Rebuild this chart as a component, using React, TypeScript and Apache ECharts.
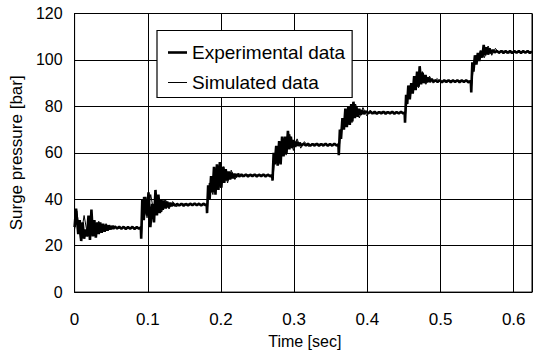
import React, { useEffect, useRef } from "react";
import * as echarts from "echarts";

const xTicks = [0, 0.1, 0.2, 0.3, 0.4, 0.5, 0.6];
const yTicks = [0, 20, 40, 60, 80, 100, 120];
const seriesNames = ["Experimental data", "Simulated data"];

// Experimental data [time (s), pressure (bar)]
const experimental: [number, number][] = [
  [0.0, 28], [0.002, 36], [0.005, 25], [0.007, 31], [0.009, 22], [0.011, 30], [0.013, 23], [0.015, 27],
  [0.017, 24], [0.019, 33], [0.021, 22.5], [0.023, 35.5], [0.025, 24], [0.027, 31], [0.029, 23.5],
  [0.031, 30], [0.033, 25], [0.035, 30], [0.037, 25.5], [0.039, 29.5], [0.041, 26], [0.043, 29],
  [0.045, 26.5], [0.047, 28.8], [0.049, 27], [0.051, 28.5], [0.053, 27.2], [0.055, 28.3], [0.058, 27.4],
  [0.061, 28.1], [0.064, 27.3], [0.067, 28.1], [0.07, 27.2], [0.073, 28.0], [0.076, 27.3], [0.079, 28.1],
  [0.082, 27.2], [0.085, 28.0], [0.088, 27.3], [0.0905, 27.9],
  [0.091, 23], [0.0925, 40], [0.0945, 31], [0.0965, 41], [0.099, 33], [0.101, 43], [0.1035, 28],
  [0.106, 38], [0.1085, 30], [0.1105, 44], [0.1125, 33], [0.1145, 42], [0.1165, 34], [0.1185, 40],
  [0.1205, 35.5], [0.1225, 39.5], [0.1245, 36], [0.1265, 39], [0.1285, 36.5], [0.1305, 38.5],
  [0.1325, 37], [0.1345, 38.2], [0.137, 37.2], [0.14, 38.0], [0.143, 37.3], [0.146, 38.1], [0.149, 37.2],
  [0.152, 38.0], [0.155, 37.3], [0.158, 38.1], [0.161, 37.4], [0.164, 38.2], [0.167, 37.4], [0.17, 38.1],
  [0.173, 37.3], [0.176, 38.1], [0.179, 37.4], [0.1805, 37.8],
  [0.181, 34], [0.1825, 46], [0.1845, 40], [0.1865, 50], [0.1885, 43], [0.1905, 54], [0.1925, 42],
  [0.1945, 55], [0.1965, 44], [0.1985, 56], [0.2005, 45], [0.2025, 54], [0.2045, 47], [0.2065, 53],
  [0.2085, 48], [0.2105, 52], [0.2125, 48.5], [0.2145, 51.5], [0.2165, 49], [0.2185, 51], [0.2205, 49.5],
  [0.2225, 50.8], [0.225, 49.8], [0.228, 50.7], [0.231, 49.9], [0.234, 50.7], [0.237, 49.8], [0.24, 50.6],
  [0.243, 49.9], [0.246, 50.7], [0.249, 49.8], [0.252, 50.6], [0.255, 49.9], [0.258, 50.7], [0.261, 49.8],
  [0.264, 50.6], [0.267, 49.9], [0.27, 50.4],
  [0.2705, 48], [0.272, 60], [0.2735, 55], [0.2755, 63], [0.2775, 54.5], [0.2795, 65], [0.2815, 55],
  [0.2835, 67], [0.2855, 58.5], [0.2875, 67], [0.2895, 60], [0.2915, 69.5], [0.2935, 61.5], [0.2955, 67],
  [0.2975, 62], [0.2995, 65.5], [0.3015, 62.5], [0.3035, 64.8], [0.3055, 63], [0.3075, 64.3], [0.31, 63.2],
  [0.313, 63.9], [0.316, 63.1], [0.319, 63.9], [0.322, 63.0], [0.325, 63.8], [0.328, 63.1], [0.331, 63.9],
  [0.334, 63.0], [0.337, 63.8], [0.34, 63.1], [0.343, 63.9], [0.346, 63.0], [0.349, 63.8], [0.352, 63.1],
  [0.355, 63.9], [0.358, 63.1], [0.3605, 63.6],
  [0.361, 59], [0.3625, 70], [0.364, 66], [0.366, 75], [0.368, 70], [0.37, 79], [0.372, 71], [0.374, 80],
  [0.376, 72], [0.378, 81], [0.3795, 73.5], [0.381, 82], [0.383, 75], [0.385, 80], [0.387, 75.5],
  [0.389, 79], [0.391, 76.3], [0.393, 78.4], [0.395, 76.7], [0.3975, 77.9], [0.401, 77], [0.404, 77.7],
  [0.407, 76.9], [0.41, 77.7], [0.413, 76.8], [0.416, 77.6], [0.419, 76.9], [0.422, 77.7], [0.425, 76.8],
  [0.428, 77.6], [0.431, 76.9], [0.434, 77.7], [0.437, 76.8], [0.44, 77.6], [0.443, 76.9], [0.446, 77.7],
  [0.449, 76.9], [0.451, 77.4],
  [0.4515, 73], [0.453, 85], [0.4545, 81], [0.456, 89], [0.458, 83], [0.46, 90], [0.462, 85.5],
  [0.464, 93], [0.466, 87], [0.468, 95], [0.47, 88.5], [0.4715, 97.3], [0.4735, 89.5], [0.4755, 94.5],
  [0.4775, 90], [0.4795, 93.5], [0.4815, 90.3], [0.4835, 92.5], [0.4855, 90.5], [0.488, 91.8],
  [0.4905, 90.6], [0.493, 91.3], [0.496, 90.5], [0.499, 91.3], [0.502, 90.4], [0.505, 91.2], [0.508, 90.5],
  [0.511, 91.3], [0.514, 90.4], [0.517, 91.2], [0.52, 90.5], [0.523, 91.3], [0.526, 90.4], [0.529, 91.2],
  [0.532, 90.5], [0.535, 91.3], [0.538, 90.4], [0.5414, 90.9],
  [0.542, 86], [0.5435, 99], [0.545, 95], [0.547, 102], [0.549, 98], [0.551, 103], [0.553, 99.5],
  [0.555, 104], [0.557, 101], [0.559, 106.5], [0.561, 102], [0.563, 105.5], [0.565, 102.3], [0.567, 105],
  [0.569, 102.8], [0.5715, 104.3], [0.574, 103.2], [0.577, 103.9], [0.58, 103.1], [0.583, 103.9],
  [0.586, 103.0], [0.589, 103.8], [0.592, 103.1], [0.595, 103.9], [0.598, 103.0], [0.601, 103.8],
  [0.604, 103.1], [0.607, 103.9], [0.61, 103.0], [0.613, 103.8], [0.616, 103.1], [0.619, 103.9],
  [0.622, 103.0], [0.625, 103.6],
];

// Simulated data [time (s), pressure (bar)]
const simulated: [number, number][] = [
  [0, 27], [0.003, 35], [0.008, 23], [0.013, 33], [0.018, 24], [0.023, 32], [0.028, 25], [0.033, 30.5],
  [0.038, 26], [0.043, 29.5], [0.048, 26.8], [0.053, 28.6], [0.058, 27.3], [0.065, 27.9], [0.0905, 27.7],
  [0.0915, 25], [0.094, 41], [0.099, 32], [0.104, 42], [0.109, 33], [0.114, 41.5], [0.119, 34.5],
  [0.124, 40], [0.129, 35.8], [0.134, 39], [0.139, 36.8], [0.145, 38], [0.1805, 37.6],
  [0.1815, 36], [0.184, 47], [0.189, 42], [0.194, 54], [0.199, 45], [0.204, 54], [0.209, 47], [0.214, 52.5],
  [0.219, 48.5], [0.224, 51.3], [0.229, 49.6], [0.235, 50.5], [0.27, 50.3],
  [0.271, 49], [0.274, 59], [0.279, 56], [0.284, 66], [0.289, 59], [0.294, 68], [0.299, 61], [0.304, 66],
  [0.309, 62], [0.314, 64.8], [0.319, 62.8], [0.325, 63.8], [0.3605, 63.5],
  [0.3615, 62], [0.364, 70], [0.369, 72], [0.374, 79], [0.379, 73], [0.384, 81], [0.389, 75], [0.394, 79.5],
  [0.399, 76], [0.404, 78.4], [0.409, 76.7], [0.415, 77.6], [0.451, 77.3],
  [0.452, 76], [0.455, 84], [0.46, 88], [0.465, 91], [0.47, 88], [0.475, 95], [0.48, 89.5], [0.485, 93],
  [0.49, 90], [0.495, 92], [0.5, 90.5], [0.506, 91.2], [0.5414, 90.9],
  [0.5424, 89], [0.545, 97], [0.55, 100], [0.555, 104], [0.56, 101], [0.565, 106], [0.57, 102], [0.575, 105],
  [0.58, 102.8], [0.585, 104], [0.59, 103], [0.625, 103.5],
];

const FONT = "'Liberation Sans', Arial, Helvetica, sans-serif";

export default function App() {
  const ref = useRef<HTMLDivElement>(null);
  useEffect(() => {
    if (!ref.current) return;
    const chart = echarts.init(ref.current, null, { renderer: "svg" });
    chart.setOption({
      animation: false,
      backgroundColor: "#fff",
      grid: {
        left: 71,
        right: 5,
        top: 13.5,
        bottom: 51,
        show: true,
        borderColor: "#000",
        borderWidth: 1,
      },
      legend: {
        data: [
          { name: seriesNames[0], icon: "path://M0,0H19V2.6H0Z" },
          { name: seriesNames[1], icon: "path://M0,0H19V1H0Z" },
        ],
        orient: "vertical",
        left: 157,
        top: 30.5,
        padding: [12, 7, 5, 11],
        itemGap: 10,
        itemWidth: 19,
        itemHeight: 20,
        symbolKeepAspect: true,
        backgroundColor: "#fff",
        borderColor: "#000",
        borderWidth: 1.2,
        textStyle: { fontFamily: FONT, fontSize: 19, color: "#000", lineHeight: 20 },
      },
      xAxis: {
        type: "value",
        min: 0,
        max: 0.625,
        interval: 0.1,
        name: "Time [sec]",
        nameLocation: "middle",
        nameGap: 30,
        nameTextStyle: { fontFamily: FONT, fontSize: 16, color: "#000", padding: [0, 0, 0, 3] },
        axisLine: { show: true, lineStyle: { color: "#000", width: 1 } },
        axisTick: { show: false },
        axisLabel: {
          margin: 19,
          fontFamily: FONT,
          fontSize: 17,
          color: "#000",
          showMaxLabel: false,
          formatter: (v: number) => {
            const t = xTicks.find((x) => Math.abs(x - v) < 1e-6);
            if (t === undefined) return "";
            return t === 0 ? "0" : t.toFixed(1);
          },
        },
        splitLine: { show: true, lineStyle: { color: "#000", width: 1 } },
      },
      yAxis: {
        type: "value",
        min: yTicks[0],
        max: yTicks[yTicks.length - 1],
        interval: 20,
        name: "Surge pressure [bar]",
        nameLocation: "middle",
        nameGap: 37,
        nameTextStyle: { fontFamily: FONT, fontSize: 17, color: "#000" },
        axisLine: { show: true, lineStyle: { color: "#000", width: 1 } },
        axisTick: { show: false },
        axisLabel: { margin: 12, fontFamily: FONT, fontSize: 16, color: "#000" },
        splitLine: { show: true, lineStyle: { color: "#000", width: 1 } },
      },
      series: [
        {
          name: seriesNames[0],
          type: "line",
          data: experimental,
          symbol: "none",
          lineStyle: { color: "#000", width: 2.6 },
          itemStyle: { color: "#000" },
          z: 3,
        },
        {
          name: seriesNames[1],
          type: "line",
          data: simulated,
          symbol: "none",
          lineStyle: { color: "#000", width: 1 },
          itemStyle: { color: "#000" },
          z: 4,
        },
      ],
    });
    return () => chart.dispose();
  }, []);
  return <div ref={ref} style={{ width: 537, height: 354, position: "absolute", left: 0, top: 0 }} />;
}
